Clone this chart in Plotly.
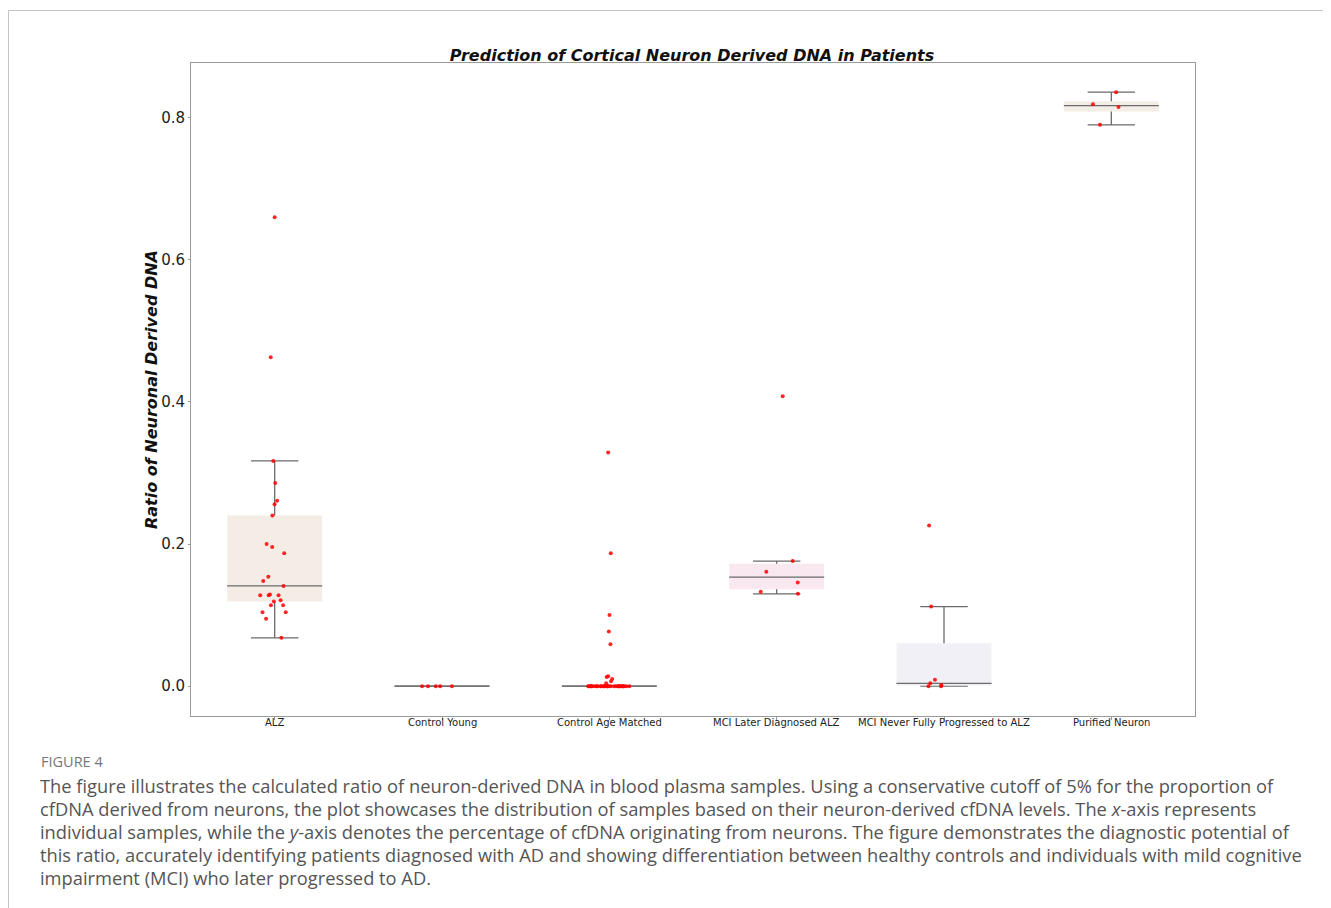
import numpy as np
import plotly.graph_objects as go

# ---------------- data ----------------
categories = ["ALZ", "Control Young", "Control Age Matched",
              "MCI Later Diagnosed ALZ", "MCI Never Fully Progressed to ALZ",
              "Purified Neuron"]

alz = [0.660, 0.463, 0.317, 0.286, 0.261, 0.256, 0.240, 0.200, 0.196, 0.187,
       0.154, 0.148, 0.141, 0.129, 0.128, 0.128, 0.128, 0.121, 0.119, 0.114,
       0.114, 0.104, 0.104, 0.095, 0.068]
control_young = [0.0, 0.0, 0.0, 0.0, 0.0]
control_age_matched = [0.329, 0.187, 0.100, 0.077, 0.059, 0.014, 0.013, 0.010,
                       0.007, 0.004] + [0.0] * 32
mci_later = [0.408, 0.176, 0.161, 0.146, 0.133, 0.130]
mci_never = [0.226, 0.112, 0.009, 0.004, 0.0015, 0.0, 0.0]
purified_neuron = [0.836, 0.819, 0.815, 0.790]

groups = [alz, control_young, control_age_matched, mci_later, mci_never,
          purified_neuron]

box_fill = ["#f3ede6", "#f1f1f6", "#f9ece6", "#f9e8ef", "#f0f0f6", "#f3ede6"]

y_ticks = [0.0, 0.2, 0.4, 0.6, 0.8]

title_text = "Prediction of Cortical Neuron Derived DNA in Patients"
y_label = "Ratio of Neuronal Derived DNA"
caption_head = "FIGURE 4"
caption_lines = [
    "The figure illustrates the calculated ratio of neuron-derived DNA in blood plasma samples. Using a conservative cutoff of 5% for the proportion of",
    "cfDNA derived from neurons, the plot showcases the distribution of samples based on their neuron-derived cfDNA levels. The <i>x</i>-axis represents",
    "individual samples, while the <i>y</i>-axis denotes the percentage of cfDNA originating from neurons. The figure demonstrates the diagnostic potential of",
    "this ratio, accurately identifying patients diagnosed with AD and showing differentiation between healthy controls and individuals with mild cognitive",
    "impairment (MCI) who later progressed to AD.",
]

# ---------------- statistics (Tukey boxes, 1.5 IQR whiskers) ----------------
q1s, meds, q3s, lfs, ufs = [], [], [], [], []
for vals in groups:
    a = np.asarray(vals, dtype=float)
    q1, med, q3 = np.percentile(a, [25, 50, 75])
    iqr = q3 - q1
    lo = a[a >= q1 - 1.5 * iqr].min()
    hi = a[a <= q3 + 1.5 * iqr].max()
    q1s.append(q1); meds.append(med); q3s.append(q3)
    lfs.append(lo); ufs.append(hi)

# ---------------- layout geometry ----------------
OFF = 8                      # page body margin
W, H = 1331 - OFF, 908 - OFF
PL, PR, PT, PB = 191, 1195, 63, 716      # plot area in window pixels
L, T = PL - OFF, PT - OFF
R, B = W - (PR - OFF), H - (PB - OFF)
pw, ph = PR - PL, PB - PT


def px_x(x):
    return (x - PL) / pw


def px_y(y):
    return (PB - y) / ph


LINE = "#6b6b6b"
fig = go.Figure()

# whiskers + caps (drawn from the median outwards; body covers interior)
fig.add_trace(go.Box(
    x=categories, q1=meds, median=meds, q3=meds, lowerfence=lfs, upperfence=ufs,
    whiskerwidth=0.5, fillcolor="rgba(0,0,0,0)",
    line=dict(color=LINE, width=1.3), hoverinfo="skip", showlegend=False))

# box bodies (fill only)
for cat, q1, med, q3, col in zip(categories, q1s, meds, q3s, box_fill):
    fig.add_trace(go.Box(
        x=[cat], q1=[q1], median=[med], q3=[q3], lowerfence=[q1], upperfence=[q3],
        whiskerwidth=0, fillcolor=col, line=dict(color=col, width=0),
        hoverinfo="skip", showlegend=False))

# median lines
fig.add_trace(go.Box(
    x=categories, q1=meds, median=meds, q3=meds, lowerfence=meds, upperfence=meds,
    whiskerwidth=0, fillcolor="rgba(0,0,0,0)",
    line=dict(color=LINE, width=1.3), hoverinfo="skip", showlegend=False))

# individual samples (strip points)
xs, ys = [], []
for cat, vals in zip(categories, groups):
    xs += [cat] * len(vals)
    ys += list(vals)
fig.add_trace(go.Box(
    x=xs, y=ys, boxpoints="all", jitter=0.45, pointpos=0,
    fillcolor="rgba(0,0,0,0)", line=dict(width=0, color="rgba(0,0,0,0)"),
    marker=dict(color="rgba(255,0,0,0.85)", size=4),
    hoverinfo="y", showlegend=False))

# ---------------- annotations ----------------
annotations = [
    dict(text="<b><i>" + y_label + "</i></b>", xref="paper", yref="paper",
         x=px_x(152), y=px_y(390), xanchor="center", yanchor="middle",
         textangle=-90, showarrow=False,
         font=dict(family="DejaVu Sans", size=16, color="#111")),
    dict(text=caption_head, xref="paper", yref="paper",
         x=px_x(39), y=px_y(761), xanchor="left", yanchor="middle",
         showarrow=False, font=dict(family="Open Sans", size=14.5, color="#777")),
]
# category labels just below the axis
for cat in categories:
    annotations.append(dict(
        text=cat, xref="x", yref="paper", x=cat, y=px_y(722),
        xanchor="center", yanchor="middle", showarrow=False,
        font=dict(family="DejaVu Sans", size=10, color="#222")))
for i, line in enumerate(caption_lines):
    annotations.append(dict(
        text=line, xref="paper", yref="paper",
        x=px_x(38), y=px_y(785 + 23 * i), xanchor="left", yanchor="middle",
        showarrow=False, font=dict(family="Open Sans", size=18.3, color="#555")))

FRAME = "#c4c4c4"
shapes = [
    dict(type="line", xref="paper", yref="paper", x0=px_x(8.5), x1=px_x(1328),
         y0=px_y(10.5), y1=px_y(10.5), line=dict(color=FRAME, width=1)),
    dict(type="line", xref="paper", yref="paper", x0=px_x(8.5), x1=px_x(8.5),
         y0=px_y(10.5), y1=px_y(930), line=dict(color=FRAME, width=1)),
    dict(type="line", xref="paper", yref="paper", x0=px_x(1328), x1=px_x(1328),
         y0=px_y(10.5), y1=px_y(930), line=dict(color=FRAME, width=1)),
]

fig.update_layout(
    width=W, height=H,
    margin=dict(l=L, r=R, t=T, b=B, autoexpand=False),
    paper_bgcolor="white", plot_bgcolor="white",
    boxmode="overlay", boxgap=0.19,
    showlegend=False,
    title=dict(text="<b><i>" + title_text + "</i></b>",
               xref="paper", x=px_x(692), xanchor="center",
               y=1 - (55 - OFF) / H, yanchor="middle",
               font=dict(family="DejaVu Sans", size=16, color="#111")),
    xaxis=dict(type="category", categoryorder="array", categoryarray=categories,
               range=[-0.5, 5.5], showgrid=False, zeroline=False,
               showline=True, mirror=True, linecolor="#9a9a9a", linewidth=1,
               ticks="outside", ticklen=3, tickcolor="#9a9a9a",
               showticklabels=False),
    yaxis=dict(range=[-0.042, 0.877], tickvals=y_ticks, tickformat=".1f",
               showgrid=False, zeroline=False,
               showline=True, mirror=True, linecolor="#9a9a9a", linewidth=1,
               ticks="outside", ticklen=2, tickcolor="#9a9a9a",
               tickfont=dict(family="DejaVu Sans", size=15, color="#222")),
    annotations=annotations,
    shapes=shapes,
)

fig.write_html("out.html")
